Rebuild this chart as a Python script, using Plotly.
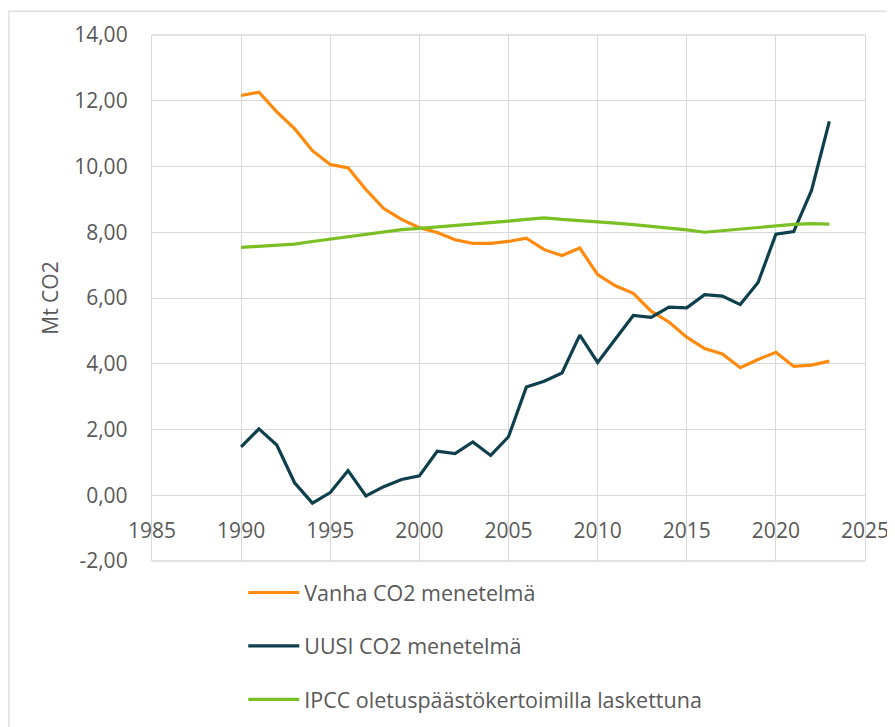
import plotly.graph_objects as go

years = list(range(1990, 2024))

vanha = [12.16, 12.26, 11.66, 11.15, 10.48, 10.06, 9.96, 9.30, 8.72, 8.39,
         8.14, 7.99, 7.77, 7.66, 7.66, 7.72, 7.82, 7.47, 7.29, 7.52,
         6.71, 6.37, 6.14, 5.60, 5.27, 4.81, 4.46, 4.30, 3.88, 4.13,
         4.35, 3.92, 3.96, 4.08]

uusi = [1.47, 2.02, 1.53, 0.38, -0.24, 0.08, 0.75, -0.02, 0.26, 0.48,
        0.59, 1.34, 1.27, 1.62, 1.21, 1.78, 3.29, 3.47, 3.72, 4.87,
        4.04, 4.76, 5.47, 5.41, 5.72, 5.70, 6.10, 6.06, 5.80, 6.47,
        7.94, 8.02, 9.27, 11.37]

ipcc = [7.54, 7.57, 7.60, 7.64, 7.72, 7.79, 7.86, 7.94, 8.02, 8.08,
        8.12, 8.16, 8.21, 8.26, 8.30, 8.34, 8.39, 8.44, 8.39, 8.36,
        8.33, 8.28, 8.23, 8.18, 8.13, 8.07, 8.00, 8.05, 8.10, 8.15,
        8.20, 8.24, 8.26, 8.25]

series_names = ["Vanha CO2 menetelmä", "UUSI CO2 menetelmä",
                "IPCC oletuspäästökertoimilla laskettuna"]
series_colors = ["#FF8A0D", "#0D3F4C", "#7AC024"]

y_ticks = [-2, 0, 2, 4, 6, 8, 10, 12, 14]
y_ticktext = ["-2,00", "0,00", "2,00", "4,00", "6,00", "8,00", "10,00", "12,00", "14,00"]
x_ticks = [1985, 1990, 1995, 2000, 2005, 2010, 2015, 2020, 2025]

FONT = "Open Sans"
GRID = "#D9D9D9"
TXT = "#595959"

W, H = 895, 740
ML, MR, MT, MB = 144, 38, 25, 187

fig = go.Figure()
for i, (name, vals) in enumerate(zip(series_names, [vanha, uusi, ipcc])):
    fig.add_trace(go.Scatter(
        x=years, y=vals, mode="lines", name=name,
        line=dict(color=series_colors[i], width=3.2),
        legendgroup=f"g{i}",
    ))

pw = W - ML - MR
ph = H - MT - MB

fig.update_layout(
    width=W, height=H,
    margin=dict(l=ML, r=MR, t=MT, b=MB),
    paper_bgcolor="white", plot_bgcolor="white",
    font=dict(family=FONT, color=TXT, size=21),
    showlegend=True,
    legend=dict(
        x=0.128, y=-0.021, xanchor="left", yanchor="top",
        orientation="v", tracegroupgap=22.5, itemwidth=51,
        font=dict(family=FONT, size=21.5, color=TXT),
        bgcolor="rgba(0,0,0,0)",
    ),
    xaxis=dict(
        range=[1985, 2025], tickvals=x_ticks,
        showgrid=True, gridcolor=GRID, gridwidth=1.3,
        zeroline=False, showline=False,
        anchor="free", position=0.125,
        ticks="", ticklabelstandoff=21,
        tickfont=dict(family=FONT, size=21, color=TXT),
    ),
    yaxis=dict(
        range=[-2, 14], tickvals=y_ticks, ticktext=y_ticktext,
        showgrid=True, gridcolor=GRID, gridwidth=1.3,
        zeroline=False, showline=True, linecolor=GRID, linewidth=1.3, mirror=True,
        ticks="", ticklabelstandoff=19,
        tickfont=dict(family=FONT, size=21, color=TXT),
        title=dict(text="Mt CO2", standoff=9,
                   font=dict(family=FONT, size=21, color=TXT)),
    ),
    shapes=[
        dict(type="rect", xref="paper", yref="paper",
             x0=-(ML - 1) / pw, x1=(W - ML + 20) / pw,
             y0=-(MB + 20) / ph, y1=1 + (MT - 1) / ph,
             line=dict(color=GRID, width=1.3), fillcolor="rgba(0,0,0,0)", layer="below"),
        dict(type="line", xref="paper", yref="paper",
             x0=0, x1=1, y0=0, y1=0, line=dict(color=GRID, width=1.3)),
        dict(type="line", xref="paper", yref="paper",
             x0=0, x1=1, y0=1, y1=1, line=dict(color=GRID, width=1.3)),
    ],
)

fig.write_html("out.html")
